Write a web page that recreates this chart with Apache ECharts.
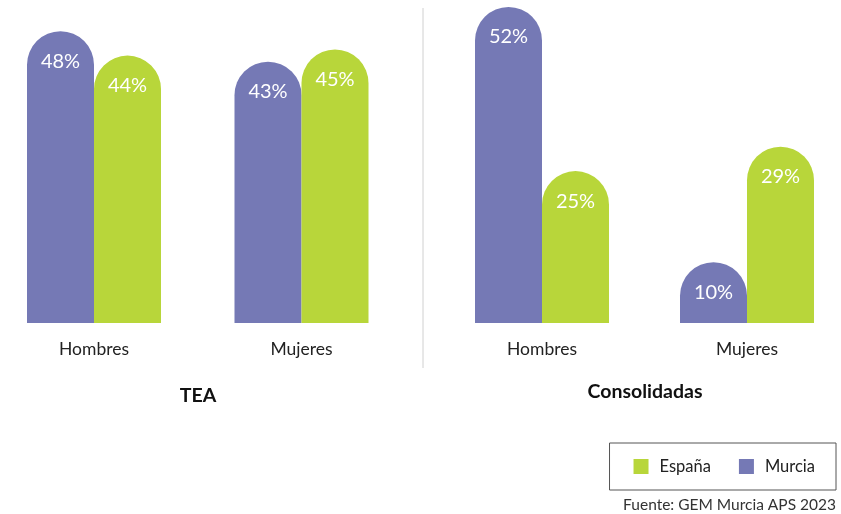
<!DOCTYPE html>
<html><head><meta charset="utf-8">
<script src="https://cdn.jsdelivr.net/npm/echarts@6/dist/echarts.min.js"></script>
<style>html,body{margin:0;padding:0;background:#fff}#c{width:841px;height:514px}</style>
</head><body><div id="c"></div>
<script>
const categories = ['Hombres', 'Mujeres'];
const teaMurcia = [48, 43];
const teaEspana = [44, 45];
const consMurcia = [52, 10];
const consEspana = [25, 29];
const panelTitles = ['TEA', 'Consolidadas'];
const seriesNames = ['Murcia', 'España'];
const source = 'Fuente: GEM Murcia APS 2023';

const PURPLE = '#7579b5', GREEN = '#b8d63a';
const FONT = 'Lato';
const chart = echarts.init(document.getElementById('c'));
const barBase = {
  type: 'bar', barWidth: 67, barGap: '0%',
  itemStyle: { borderRadius: [33.5, 33.5, 0, 0] },
  label: { show: true, position: 'insideTop', distance: 20, color: '#fff', fontSize: 20, fontFamily: FONT, formatter: '{c}%' },
  emphasis: { disabled: true }
};
function mk(name, data, idx, color) {
  return Object.assign({}, barBase, { name, data, xAxisIndex: idx, yAxisIndex: idx, itemStyle: Object.assign({}, barBase.itemStyle, { color }) });
}
const xAx = (gi) => ({
  type: 'category', data: categories, gridIndex: gi, boundaryGap: false,
  axisLine: { show: false }, axisTick: { show: false },
  axisLabel: { color: '#222', fontSize: 17.5, fontFamily: FONT, margin: 17 }
});
const yAx = (gi) => ({ type: 'value', gridIndex: gi, min: 0, max: 52, show: false, splitLine: { show: false } });
chart.setOption({
  animation: false,
  textStyle: { fontFamily: FONT },
  grid: [
    { left: 94, width: 207.5, top: 7, bottom: 191 },
    { left: 542, width: 205, top: 7, bottom: 191 }
  ],
  xAxis: [xAx(0), xAx(1)],
  yAxis: [yAx(0), yAx(1)],
  title: [
    { text: panelTitles[0], left: 193, top: 381, textAlign: 'center', textStyle: { fontFamily: FONT, fontSize: 19.5, fontWeight: 'bold', color: '#111' } },
    { text: panelTitles[1], left: 640, top: 377, textAlign: 'center', textStyle: { fontFamily: FONT, fontSize: 19.5, fontWeight: 'bold', color: '#111' } }
  ],
  legend: {
    data: [seriesNames[1], seriesNames[0]],
    right: 5, top: 443, orient: 'horizontal',
    borderColor: '#555', borderWidth: 1, padding: [15, 21, 15, 24],
    itemWidth: 15, itemHeight: 15, itemGap: 28, icon: 'rect',
    textStyle: { fontFamily: FONT, fontSize: 16.5, color: '#222', padding: [0, 0, 0, 6] },
    selectedMode: false
  },
  graphic: [
    { type: 'line', shape: { x1: 423, y1: 8, x2: 423, y2: 368 }, style: { stroke: '#d0d0d0', lineWidth: 1 } },
    { type: 'text', right: 5, top: 497, style: { text: source, fontFamily: FONT, fontSize: 15.5, fill: '#333', textAlign: 'right' } }
  ],
  series: [
    mk(seriesNames[0], teaMurcia, 0, PURPLE),
    mk(seriesNames[1], teaEspana, 0, GREEN),
    mk(seriesNames[0], consMurcia, 1, PURPLE),
    mk(seriesNames[1], consEspana, 1, GREEN)
  ]
});
</script></body></html>
